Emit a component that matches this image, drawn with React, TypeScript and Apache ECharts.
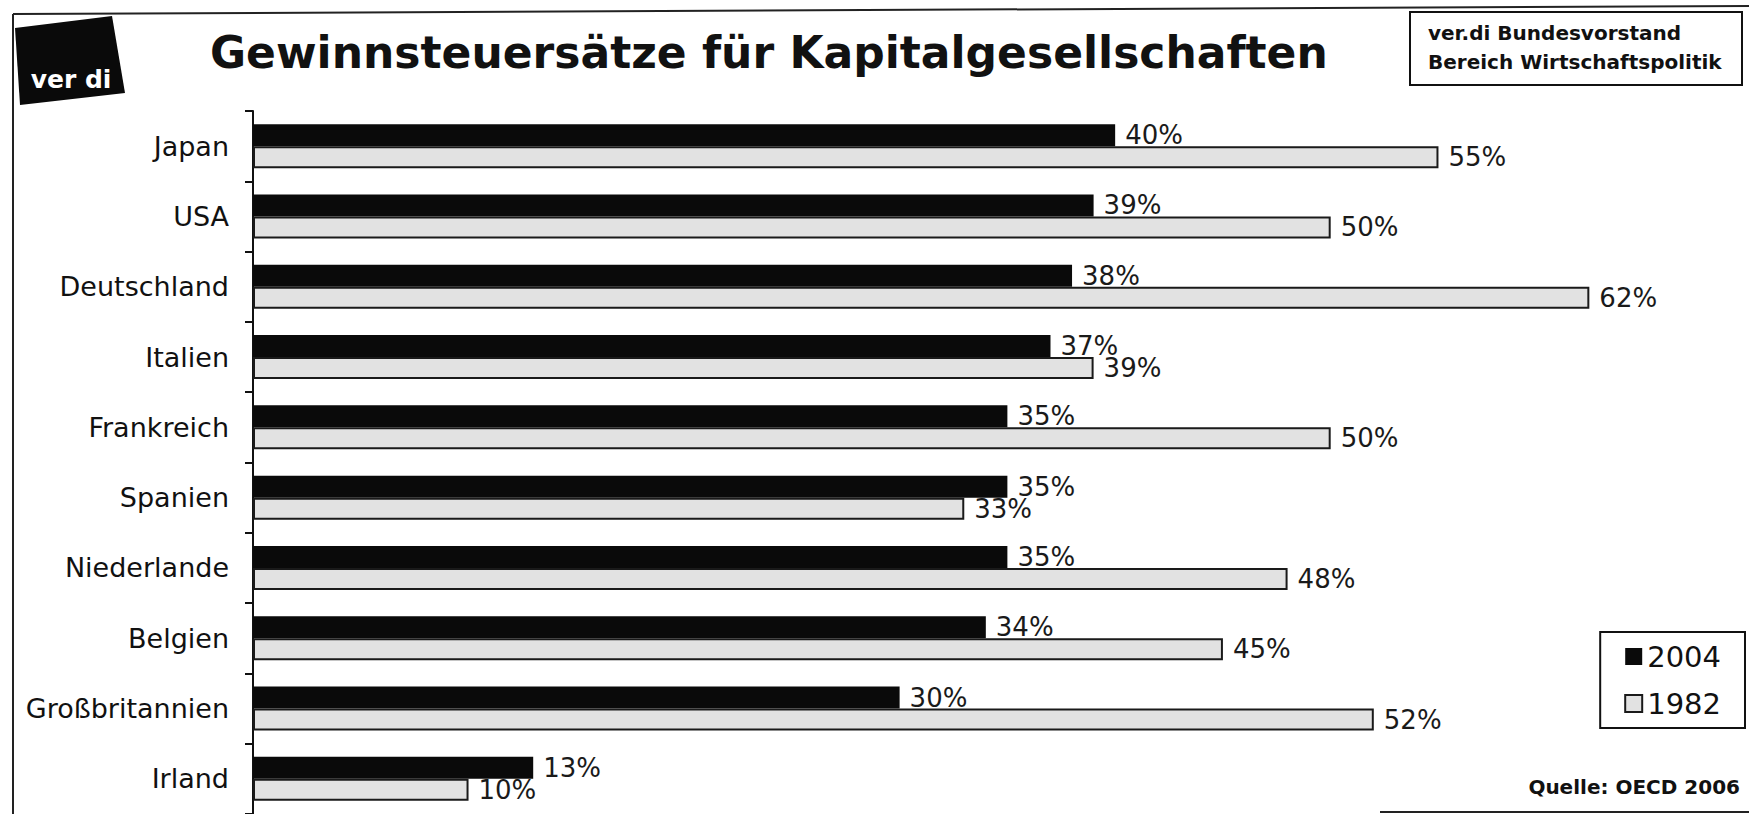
import React, { useEffect, useRef } from "react";
import * as echarts from "echarts";

const categories = [
  "Japan",
  "USA",
  "Deutschland",
  "Italien",
  "Frankreich",
  "Spanien",
  "Niederlande",
  "Belgien",
  "Großbritannien",
  "Irland",
];
const values2004 = [40, 39, 38, 37, 35, 35, 35, 34, 30, 13];
const values1982 = [55, 50, 62, 39, 50, 33, 48, 45, 52, 10];
const seriesNames = ["2004", "1982"];
const titleText = "Gewinnsteuersätze für Kapitalgesellschaften";
const boxLines = ["ver.di Bundesvorstand", "Bereich Wirtschaftspolitik"];
const sourceText = "Quelle: OECD 2006";
const logoText = "ver di";

const FONT = "'DejaVu Sans', 'Liberation Sans', Arial, sans-serif";

export default function App() {
  const ref = useRef<HTMLDivElement>(null);
  useEffect(() => {
    if (!ref.current) return;
    const chart = echarts.init(ref.current, undefined, { renderer: "svg" });
    const labelStyle = {
      show: true,
      position: "right" as const,
      distance: 10,
      fontSize: 26,
      fontFamily: FONT,
      color: "#1a1a1a",
      formatter: "{c}%",
    };
    chart.setOption({
      animation: false,
      backgroundColor: "#ffffff",
      textStyle: { fontFamily: FONT },
      grid: { left: 253, top: 111, width: 1401, height: 706, containLabel: false },
      xAxis: {
        type: "value",
        min: 0,
        max: 65,
        show: false,
      },
      yAxis: {
        type: "category",
        data: categories,
        inverse: true,
        axisLine: { show: true, lineStyle: { color: "#111", width: 2 } },
        axisTick: { show: true, length: 8, lineStyle: { color: "#111", width: 2 } },
        axisLabel: { margin: 24, fontSize: 27, color: "#111", fontFamily: FONT },
        splitLine: { show: false },
      },
      legend: {
        orient: "vertical",
        right: 4,
        top: 632,
        data: [
          { name: seriesNames[0], icon: "rect" },
          { name: seriesNames[1], icon: "rect" },
        ],
        itemWidth: 17,
        itemHeight: 17,
        itemGap: 18,
        padding: [10, 24, 10, 24],
        borderColor: "#111",
        borderWidth: 2,
        backgroundColor: "#fff",
        textStyle: { fontSize: 29, color: "#111", fontFamily: FONT },
      },
      series: [
        {
          name: seriesNames[0],
          type: "bar",
          data: values2004,
          barWidth: 22,
          barGap: "0%",
          itemStyle: { color: "#0a0a0a" },
          label: labelStyle,
        },
        {
          name: seriesNames[1],
          type: "bar",
          data: values1982,
          barWidth: 22,
          barGap: "0%",
          itemStyle: { color: "#e2e2e2", borderColor: "#1a1a1a", borderWidth: 2 },
          label: labelStyle,
        },
      ],
      graphic: [
        {
          type: "line",
          shape: { x1: 13, y1: 14, x2: 1749, y2: 6 },
          style: { stroke: "#222", lineWidth: 2 },
        },
        {
          type: "line",
          shape: { x1: 13, y1: 14, x2: 13, y2: 814 },
          style: { stroke: "#222", lineWidth: 2 },
        },
        {
          type: "line",
          shape: { x1: 1380, y1: 812, x2: 1749, y2: 812 },
          style: { stroke: "#222", lineWidth: 2 },
        },
        {
          type: "polygon",
          shape: { points: [[15, 28], [112, 16], [125, 93], [20, 105]] },
          style: { fill: "#0a0a0a" },
        },
        {
          type: "text",
          x: 71,
          y: 79,
          style: {
            text: logoText,
            fill: "#ffffff",
            fontSize: 25,
            fontWeight: "bold",
            fontFamily: FONT,
            align: "center",
            verticalAlign: "middle",
          },
        },
        {
          type: "text",
          x: 210,
          y: 52,
          style: {
            text: titleText,
            fill: "#111",
            fontSize: 44,
            fontWeight: "bold",
            fontFamily: FONT,
            align: "left",
            verticalAlign: "middle",
          },
        },
        {
          type: "rect",
          shape: { x: 1410, y: 12, width: 332, height: 73 },
          style: { fill: "#fff", stroke: "#111", lineWidth: 2 },
        },
        {
          type: "text",
          x: 1428,
          y: 33,
          style: {
            text: boxLines[0],
            fill: "#111",
            fontSize: 20,
            fontWeight: "bold",
            fontFamily: FONT,
            align: "left",
            verticalAlign: "middle",
          },
        },
        {
          type: "text",
          x: 1428,
          y: 62,
          style: {
            text: boxLines[1],
            fill: "#111",
            fontSize: 20,
            fontWeight: "bold",
            fontFamily: FONT,
            align: "left",
            verticalAlign: "middle",
          },
        },
        {
          type: "text",
          x: 1740,
          y: 787,
          style: {
            text: sourceText,
            fill: "#111",
            fontSize: 20,
            fontWeight: "bold",
            fontFamily: FONT,
            align: "right",
            verticalAlign: "middle",
          },
        },
      ],
    });
    return () => chart.dispose();
  }, []);
  return (
    <div
      ref={ref}
      style={{ position: "fixed", left: 0, top: 0, width: 1749, height: 814, background: "#fff" }}
    />
  );
}
